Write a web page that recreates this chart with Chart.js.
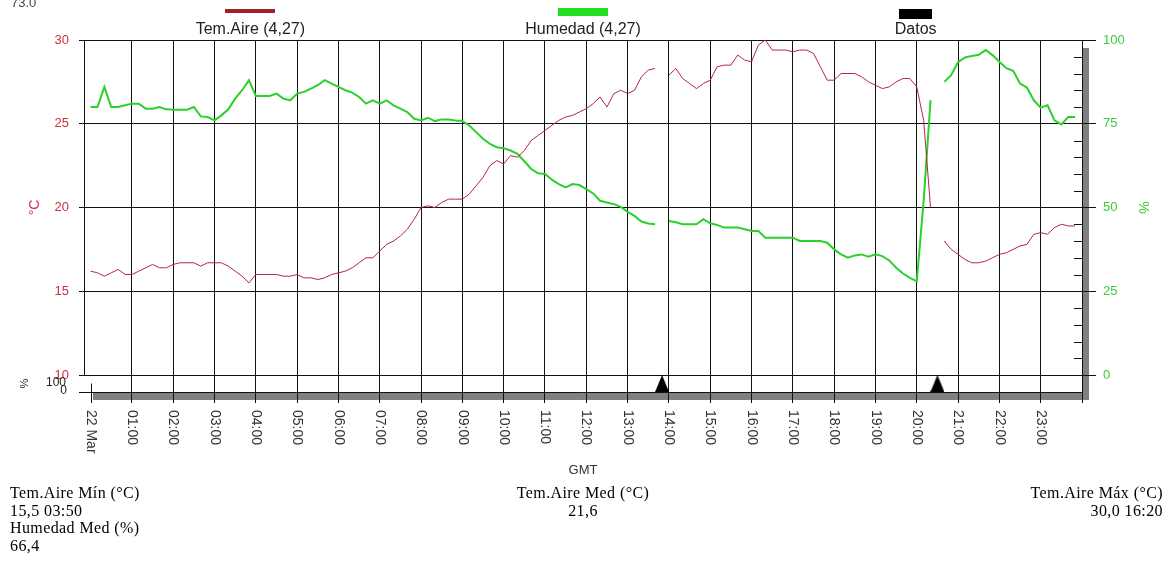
<!DOCTYPE html>
<html lang="es">
<head>
<meta charset="utf-8">
<title>Tem.Aire / Humedad</title>
<script src="https://cdn.jsdelivr.net/npm/chart.js@4.4.1/dist/chart.umd.min.js"></script>
<style>
  html, body { margin: 0; padding: 0; background: #fff; }
  canvas { display: block; }
</style>
</head>
<body>
<canvas id="grafico" width="1173" height="561"></canvas>
<script>
// horas de medida (cada 10 minutos, GMT)
const horas = [
  "00:00","00:10","00:20","00:30","00:40","00:50",
  "01:00","01:10","01:20","01:30","01:40","01:50",
  "02:00","02:10","02:20","02:30","02:40","02:50",
  "03:00","03:10","03:20","03:30","03:40","03:50",
  "04:00","04:10","04:20","04:30","04:40","04:50",
  "05:00","05:10","05:20","05:30","05:40","05:50",
  "06:00","06:10","06:20","06:30","06:40","06:50",
  "07:00","07:10","07:20","07:30","07:40","07:50",
  "08:00","08:10","08:20","08:30","08:40","08:50",
  "09:00","09:10","09:20","09:30","09:40","09:50",
  "10:00","10:10","10:20","10:30","10:40","10:50",
  "11:00","11:10","11:20","11:30","11:40","11:50",
  "12:00","12:10","12:20","12:30","12:40","12:50",
  "13:00","13:10","13:20","13:30","13:40","13:50",
  "14:00","14:10","14:20","14:30","14:40","14:50",
  "15:00","15:10","15:20","15:30","15:40","15:50",
  "16:00","16:10","16:20","16:30","16:40","16:50",
  "17:00","17:10","17:20","17:30","17:40","17:50",
  "18:00","18:10","18:20","18:30","18:40","18:50",
  "19:00","19:10","19:20","19:30","19:40","19:50",
  "20:00","20:10","20:20","20:30","20:40","20:50",
  "21:00","21:10","21:20","21:30","21:40","21:50",
  "22:00","22:10","22:20","22:30","22:40","22:50",
  "23:00","23:10","23:20","23:30","23:40","23:50"
];

// Tem.Aire (°C)
const temperatura = [
  16.2, 16.1, 15.9, 16.1, 16.3, 16.0,
  16.0, 16.2, 16.4, 16.6, 16.4, 16.4,
  16.6, 16.7, 16.7, 16.7, 16.5, 16.7,
  16.7, 16.7, 16.5, 16.2, 15.9, 15.5,
  16.0, 16.0, 16.0, 16.0, 15.9, 15.9,
  16.0, 15.8, 15.8, 15.7, 15.8, 16.0,
  16.1, 16.2, 16.4, 16.7, 17.0, 17.0,
  17.4, 17.8, 18.0, 18.3, 18.7, 19.3,
  20.0, 20.1, 20.0, 20.3, 20.5, 20.5,
  20.5, 20.8, 21.3, 21.8, 22.5, 22.8,
  22.6, 23.1, 23.0, 23.4, 24.0, 24.3,
  24.6, 24.9, 25.2, 25.4, 25.5, 25.7,
  25.9, 26.2, 26.6, 26.0, 26.8, 27.0,
  26.8, 27.0, 27.8, 28.2, 28.3, null,
  27.9, 28.3, 27.7, 27.4, 27.1, 27.4,
  27.6, 28.4, 28.5, 28.5, 29.1, 28.8,
  28.7, 29.7, 30.0, 29.4, 29.4, 29.4,
  29.3, 29.4, 29.4, 29.2, 28.4, 27.6,
  27.6, 28.0, 28.0, 28.0, 27.8, 27.5,
  27.3, 27.1, 27.2, 27.5, 27.7, 27.7,
  27.2, 25.2, 20.0, null, 18.0, 17.5,
  17.2, 16.9, 16.7, 16.7, 16.8, 17.0,
  17.2, 17.3, 17.5, 17.7, 17.8, 18.4,
  18.5, 18.4, 18.8, 19.0, 18.9, 18.9
];

// Humedad (%)
const humedad = [
  80, 80, 86, 80, 80, 80.5,
  81, 81, 79.5, 79.5, 80, 79.3,
  79.2, 79.2, 79.2, 80, 77.2, 77,
  76, 77.5, 79.3, 82.5, 85, 88,
  83.3, 83.3, 83.3, 84, 82.5, 82,
  84, 84.5, 85.5, 86.5, 88, 87,
  86, 85, 84.3, 83, 81, 82,
  81, 82, 80.5, 79.5, 78.5, 76.5,
  76, 76.8, 75.8, 76.3, 76.3, 76,
  75.8, 74.5, 72.5, 70.5, 69, 68,
  67.7, 67, 66, 63.8, 61.5, 60.2,
  60, 58.3, 57, 56, 57, 56.7,
  55.5, 54.2, 52, 51.5, 51, 50.2,
  48.7, 47.5, 45.8, 45.2, 45, null,
  46, 45.6, 45, 45, 45, 46.5,
  45.3, 44.8, 44, 44, 44, 43.5,
  43, 43, 41, 41, 41, 41,
  41, 40, 40, 40, 40, 39.5,
  37.5, 36, 35, 35.7, 36, 35.3,
  36, 35.5, 34.2, 32, 30.3, 29,
  28, 52, 82, null, 87.5, 89.5,
  93.4, 94.8, 95.2, 95.6, 97, 95.5,
  93.5, 91.6, 90.8, 87, 85.8, 82,
  79.8, 80.5, 76, 74.8, 77, 77
];

// marcas de la franja "Datos" (huecos de datos)
const datosHoras = ["13:50", "20:30"];
const datosNivel = [50, 50];

// ejes
const etiquetasEje = ["22 Mar","01:00","02:00","03:00","04:00","05:00","06:00","07:00",
  "08:00","09:00","10:00","11:00","12:00","13:00","14:00","15:00",
  "16:00","17:00","18:00","19:00","20:00","21:00","22:00","23:00"];
const ticksTemp = [10, 15, 20, 25, 30];
const ticksHum = [0, 25, 50, 75, 100];

// textos del resumen
const resumenIzq = ["Tem.Aire Mín (°C)", "15,5 03:50", "Humedad Med (%)", "66,4"];
const resumenCentro = ["Tem.Aire Med (°C)", "21,6"];
const resumenDer = ["Tem.Aire Máx (°C)", "30,0 16:20"];

const FRANJA = 17 / 335;   // alto de la franja de datos respecto al área principal
const fuente = "'Liberation Sans', Arial, sans-serif";
Chart.defaults.font.family = fuente;

function aHoras(t) {
  const [h, m] = t.split(":").map(Number);
  return h + m / 60;
}

// triángulo negro para los huecos de datos
const triangulo = document.createElement("canvas");
triangulo.width = 14; triangulo.height = 17;
(function () {
  const c = triangulo.getContext("2d");
  c.fillStyle = "#000";
  c.beginPath(); c.moveTo(7, 0); c.lineTo(14, 17); c.lineTo(0, 17); c.closePath(); c.fill();
})();

const decoracion = {
  id: "decoracion",
  beforeDraw(chart) {
    const { ctx, chartArea: a } = chart;
    ctx.save();
    ctx.fillStyle = "#fff";
    ctx.fillRect(0, 0, chart.width, chart.height);
    ctx.fillStyle = "#808080";  // sombra del marco
    ctx.fillRect(a.left + 9, a.top + 8, a.right - a.left - 2, a.bottom - a.top);
    ctx.fillStyle = "#fff";
    ctx.fillRect(a.left, a.top, a.right - a.left, a.bottom - a.top);
    ctx.restore();
  },
  afterDraw(chart) {
    const { ctx, chartArea: a } = chart;
    const { x, y, y2, yd } = chart.scales;
    const px = v => Math.round(v) + 0.5;
    const linea = (x1, y1, x2, y3) => { ctx.beginPath(); ctx.moveTo(x1, y1); ctx.lineTo(x2, y3); ctx.stroke(); };
    ctx.save();
    ctx.strokeStyle = "#111"; ctx.lineWidth = 1;

    linea(px(a.left), y.getPixelForValue(30), px(a.left), y.getPixelForValue(10));
    linea(a.left - 5, px(yd.getPixelForValue(0)), a.left, px(yd.getPixelForValue(0)));
    linea(px(x.getPixelForValue(0)), yd.getPixelForValue(50), px(x.getPixelForValue(0)), a.bottom + 11);
    for (let v = 5; v < 100; v += 5) {
      if (v % 25) linea(a.right - 8, px(y2.getPixelForValue(v)), a.right, px(y2.getPixelForValue(v)));
    }

    // etiquetas de hora, giradas
    ctx.fillStyle = "#333";
    ctx.font = "14px " + fuente;
    ctx.textAlign = "left"; ctx.textBaseline = "middle";
    etiquetasEje.forEach((t, i) => {
      ctx.save();
      ctx.translate(x.getPixelForValue(i), a.bottom + 18);
      ctx.rotate(Math.PI / 2);
      ctx.fillText(t, 0, 0);
      ctx.restore();
    });
    ctx.textAlign = "center";
    ctx.font = "13px " + fuente;
    ctx.fillText("GMT", (a.left + a.right) / 2, 470);

    // títulos de ejes
    ctx.save();
    ctx.translate(35, y.getPixelForValue(20)); ctx.rotate(-Math.PI / 2);
    ctx.fillStyle = "#c8323f"; ctx.font = "14px " + fuente;
    ctx.fillText("°C", 0, 0);
    ctx.restore();
    ctx.save();
    ctx.translate(1143, y2.getPixelForValue(50)); ctx.rotate(Math.PI / 2);
    ctx.fillStyle = "#3ccc3c"; ctx.font = "14px " + fuente;
    ctx.fillText("%", 0, 0);
    ctx.restore();
    ctx.save();
    ctx.translate(25, yd.getPixelForValue(50)); ctx.rotate(-Math.PI / 2);
    ctx.fillStyle = "#222"; ctx.font = "11px " + fuente;
    ctx.fillText("%", 0, 0);
    ctx.restore();
    ctx.fillStyle = "#222"; ctx.font = "12px " + fuente; ctx.textAlign = "right";
    ctx.fillText("100", 66, yd.getPixelForValue(100) + 8);
    ctx.fillText("0", 67, yd.getPixelForValue(0) - 1);

    // leyenda
    const ancho = a.right - a.left;
    const leyenda = [
      { cx: a.left + ancho / 6, color: "#a61e2c", w: 50, h: 4, top: 9 },
      { cx: a.left + ancho / 2, color: "#22dd22", w: 50, h: 8, top: 8 },
      { cx: a.left + ancho * 5 / 6, color: "#000", w: 33, h: 10, top: 9 }
    ];
    ctx.font = "16px " + fuente; ctx.textAlign = "center"; ctx.textBaseline = "alphabetic";
    leyenda.forEach((l, i) => {
      ctx.fillStyle = l.color;
      ctx.fillRect(Math.round(l.cx - l.w / 2), l.top, l.w, l.h);
      ctx.fillStyle = "#222";
      ctx.fillText(chart.data.datasets[i].label, l.cx, 34);
    });

    ctx.fillStyle = "#444"; ctx.font = "13px " + fuente; ctx.textAlign = "left";
    ctx.fillText("73.0", 11, 7);

    // resumen
    ctx.fillStyle = "#000";
    ctx.font = "16px 'Liberation Serif', 'Times New Roman', serif";
    ctx.letterSpacing = "0.4px";
    const bloque = (textos, xpos, alin) => {
      ctx.textAlign = alin;
      textos.forEach((t, i) => ctx.fillText(t, xpos, 498 + i * 17.5));
    };
    bloque(resumenIzq, 10, "left");
    bloque(resumenCentro, (a.left + a.right) / 2, "center");
    bloque(resumenDer, 1163, "right");
    ctx.restore();
  }
};

new Chart(document.getElementById("grafico"), {
  type: "line",
  data: {
    datasets: [
      {
        label: "Tem.Aire (4,27)",
        data: horas.map((h, i) => ({ x: aHoras(h), y: temperatura[i] })),
        yAxisID: "y",
        borderColor: "#b3283c",
        borderWidth: 1,
        pointRadius: 0,
        spanGaps: false
      },
      {
        label: "Humedad (4,27)",
        data: horas.map((h, i) => ({ x: aHoras(h), y: humedad[i] })),
        yAxisID: "y2",
        borderColor: "#2bd02b",
        borderWidth: 2,
        pointRadius: 0,
        spanGaps: false
      },
      {
        label: "Datos",
        data: datosHoras.map((h, i) => ({ x: aHoras(h), y: datosNivel[i] })),
        yAxisID: "yd",
        showLine: false,
        pointStyle: triangulo,
        pointRadius: 8
      }
    ]
  },
  options: {
    responsive: false,
    animation: false,
    events: [],
    layout: { padding: { top: 40, left: 0, right: 0, bottom: 0 } },
    plugins: { legend: { display: false }, tooltip: { enabled: false } },
    scales: {
      x: {
        type: "linear",
        min: -0.16,
        max: 24,
        afterBuildTicks: s => { s.ticks = etiquetasEje.map((_, i) => ({ value: i })).concat([{ value: 24 }]); },
        afterFit: s => { s.height = 169; },
        ticks: { display: false },
        grid: {
          color: c => (c.tick && c.tick.value === 0) ? "rgba(0,0,0,0)" : "#111",
          lineWidth: 1,
          tickLength: 11
        },
        border: { display: true, color: "#111" }
      },
      y: {
        type: "linear",
        position: "left",
        min: 10 - 20 * FRANJA,
        max: 30,
        afterBuildTicks: s => { s.ticks = ticksTemp.map(v => ({ value: v })); },
        afterFit: s => { s.width = 84; },
        ticks: { color: "#c8323f", font: { size: 13 }, padding: 10 },
        grid: { color: "#111", lineWidth: 1, tickLength: 5 },
        border: { display: false }
      },
      y2: {
        type: "linear",
        position: "right",
        min: -100 * FRANJA,
        max: 100,
        afterBuildTicks: s => { s.ticks = ticksHum.map(v => ({ value: v })); },
        afterFit: s => { s.width = 91; },
        ticks: { color: "#3ccc3c", font: { size: 13 }, padding: 7 },
        grid: { drawOnChartArea: false, color: "#111", lineWidth: 1, tickLength: 14 },
        border: { display: true, color: "#111" }
      },
      yd: {
        type: "linear",
        display: false,
        min: 0,
        max: 100 * (1 + FRANJA) / FRANJA
      }
    }
  },
  plugins: [decoracion]
});
</script>
</body>
</html>
